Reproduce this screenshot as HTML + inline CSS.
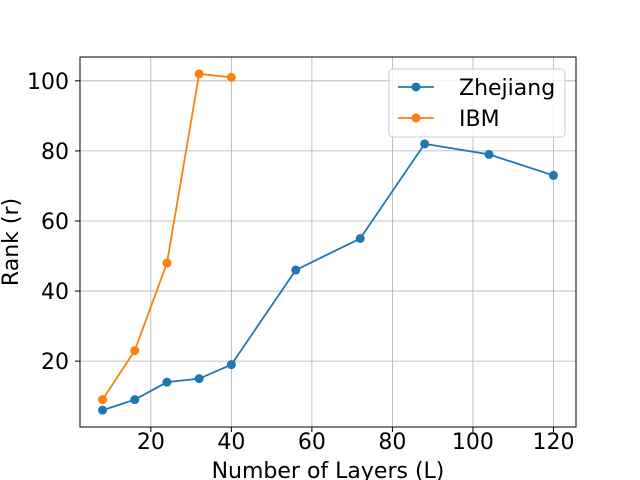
<!DOCTYPE html>
<html><head><meta charset="utf-8"><style>body{margin:0;background:#fff}svg{display:block;font-family:"DejaVu Sans","Liberation Sans",sans-serif}</style></head>
<body>
<svg id="c" width="640" height="480"></svg>
<script>
const zjLayers=[8,16,24,32,40,56,72,88,104,120];
const zjRank=[6,9,14,15,19,46,55,82,79,73];
const ibmLayers=[8,16,24,32,40];
const ibmRank=[9,23,48,102,101];
const xTicks=[20,40,60,80,100,120];
const yTicks=[20,40,60,80,100];
const L=80,R=576,T=57,B=427,xmin=2.4,xmax=125.6,ymin=1.2,ymax=106.8;
const X=v=>L+(v-xmin)/(xmax-xmin)*(R-L);
const Y=v=>B-(v-ymin)/(ymax-ymin)*(B-T);
const s=document.getElementById('c');const NS='http://www.w3.org/2000/svg';
function mk(t,a,p){const e=document.createElementNS(NS,t);for(const k in a)e.setAttribute(k,a[k]);(p||s).appendChild(e);return e;}
xTicks.forEach(v=>{
const g=mk('line',{x1:X(v),x2:X(v),y1:T,y2:B,stroke:'#b0b0b0','stroke-width':0.8});


mk('line',{x1:X(v),x2:X(v),y1:B,y2:B+5,stroke:'#000'});
const t=mk('text',{x:X(v),y:B+22,'text-anchor':'middle','font-size':22,'dominant-baseline':'auto'});t.textContent=v;


});
yTicks.forEach(v=>{
const g=mk('line',{x1:L,x2:R,y1:Y(v),y2:Y(v),stroke:'#b0b0b0','stroke-width':0.8});


mk('line',{x1:L-5,x2:L,y1:Y(v),y2:Y(v),stroke:'#000'});
const t=mk('text',{x:L-11,y:Y(v)+8,'text-anchor':'end','font-size':22});t.textContent=v;


});
const fr=mk('rect',{x:L,y:T,width:R-L,height:B-T,fill:'none',stroke:'#000','stroke-width':1});


function series(xs,ys,col,name){
const p=mk('polyline',{points:xs.map((x,i)=>X(x)+','+Y(ys[i])).join(' '),fill:'none',stroke:col,'stroke-width':1.8});


xs.forEach((x,i)=>{const c=mk('circle',{cx:X(x),cy:Y(ys[i]),r:4.5,fill:col});

});
}
series(zjLayers,zjRank,'#1f77b4','zhejiang');
series(ibmLayers,ibmRank,'#ff7f0e','ibm');
const xl=mk('text',{x:(L+R)/2,y:478,'text-anchor':'middle','font-size':22});xl.textContent='Number of Layers (L)';


const yl=mk('text',{x:0,y:0,'text-anchor':'middle','font-size':22,transform:'translate(18,'+((T+B)/2)+') rotate(-90)'});yl.textContent='Rank (r)';


const lg=mk('g',{});


mk('rect',{x:389,y:69,width:176,height:68,rx:4,fill:'#fff','fill-opacity':0.8,stroke:'#ccc'},lg);
[['Zhejiang','#1f77b4',87],['IBM','#ff7f0e',118]].forEach(([n,c,y])=>{
mk('line',{x1:398,x2:434,y1:y,y2:y,stroke:c,'stroke-width':1.8},lg);
mk('circle',{cx:416,cy:y,r:4.5,fill:c},lg);
const t=mk('text',{x:459,y:y+8,'font-size':22},lg);t.textContent=n;


});
</script>
</body></html>
